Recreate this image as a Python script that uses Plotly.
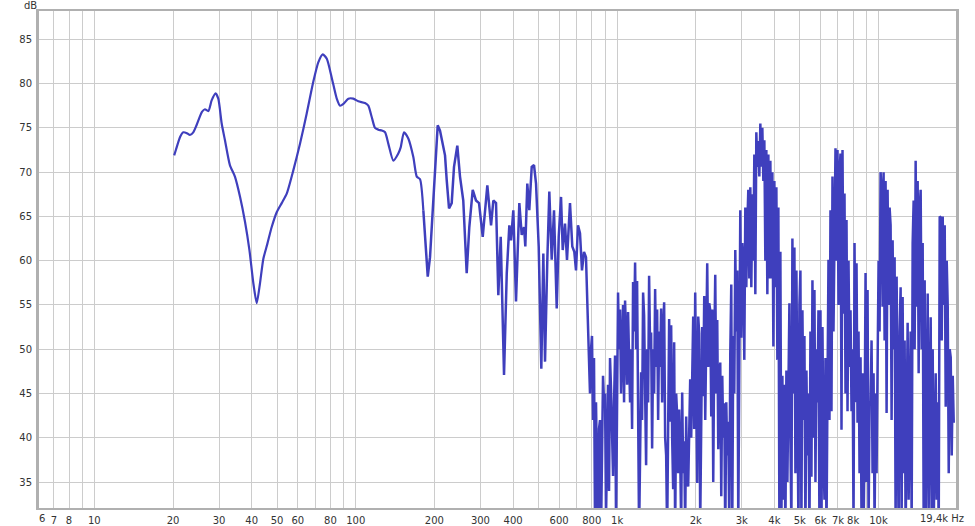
import numpy as np
import plotly.graph_objects as go

# ---------------- data ----------------
# smooth low-frequency part: frequency (Hz) and level (dB)
freq_low = [20.2, 20.5, 21.3, 21.9, 22.6, 23.2, 23.9, 24.6, 25.8, 26.5, 27.3, 28.1,
            29.1, 29.8, 30.7, 31.6, 33.0, 34.5, 36.1, 37.7, 39.2, 40.6, 41.8, 43.0,
            44.3, 45.9, 47.7, 49.9, 52.1, 54.5, 57.7, 61.2, 64.9, 68.8, 71.9, 74.8,
            77.5, 80.9, 84.6, 87.1, 89.7, 93.7, 97.9, 102.3, 108.5, 111.7, 115.2,
            118.5, 122.1, 125.8, 129.5, 133.3, 139.3, 145.5, 148.6, 153.0, 158.9,
            166.1, 171.2, 176.2, 181.4]
db_low = [71.9, 72.5, 74.0, 74.5, 74.4, 74.2, 74.5, 75.3, 76.8, 77.1, 76.9, 78.1,
          78.9, 78.3, 75.5, 73.6, 70.8, 69.5, 67.2, 64.4, 61.2, 57.4, 55.2, 57.4,
          60.2, 61.9, 63.8, 65.5, 66.5, 67.6, 70.2, 73.2, 76.6, 80.2, 82.4, 83.3,
          82.8, 80.7, 78.3, 77.5, 77.7, 78.3, 78.3, 78.0, 77.8, 77.5, 76.2,
          75.0, 74.8, 74.7, 74.5, 73.2, 71.3, 72.1, 72.8, 74.5, 73.8,
          71.7, 69.5, 69.2, 65.7]

# mid part (181 Hz - 780 Hz)
freq_mid = [181.4, 188.6, 192.4, 197.1, 201.1, 205.9, 210.1, 216.3, 219.6, 222.9,
            227.5, 232.9, 237.7, 244.7, 250.6, 257.9, 265.8, 272.0, 280.3, 288.5,
            296.3, 306.1, 318.8, 329.4, 336.1, 344.2, 351.2, 358.7, 369.3, 378.3,
            387.0, 392.8, 400.8, 410.4, 422.6, 431.6, 440.5, 445.5, 453.4, 461.4,
            471.3, 481.0, 489.6, 501.3, 512.9, 522.1, 530.0, 540.8, 550.4, 562.1,
            573.6, 587.5, 597.9, 610.2, 619.4, 632.0, 643.2, 660.4, 673.9, 685.9,
            696.3, 708.6, 721.2, 734.0, 747.1, 760.3, 775.9]
db_mid = [65.7, 58.2, 60.4, 65.7, 70.6, 75.3, 74.7, 72.7, 71.9, 69.1,
          65.9, 66.5, 70.6, 73.0, 69.5, 66.8, 58.6, 63.8, 68.0, 66.8,
          66.5, 62.7, 68.5, 64.0, 66.8, 66.5, 56.1, 62.7, 47.1, 58.6,
          64.0, 62.3, 65.7, 55.4, 66.5, 62.9, 63.8, 61.6, 68.7, 65.7,
          70.6, 70.8, 68.7, 61.6, 47.8, 60.8, 48.6, 60.1, 67.8, 60.1,
          65.7, 54.6, 62.7, 67.2, 61.2, 64.2, 60.1, 66.5, 61.6, 61.0,
          58.9, 64.0, 63.1, 58.9, 61.0, 60.4, 51.8]

# dense high-frequency part: levels on an evenly (log) spaced analyser grid
f_high_start = 787.6
f_high_end = 19408.0
db_high = [
    45, 50, 51.5, 42, 49, 30, 44, 36, 28, 41,
    42, 29, 40, 47, 44, 45, 31, 39, 46, 34,
    49, 45.5, 38, 35.7, 44, 49.3, 30, 40, 56.4, 50,
    54.5, 45, 50, 55, 44, 55.5, 51.5, 46, 54.2, 48,
    44, 50, 41, 57.6, 52, 59.8, 50, 57.7, 48, 29,
    38, 47.4, 42, 56.4, 53.8, 45, 36.9, 50, 44, 58.3,
    50, 51.9, 38.8, 50, 45, 56.8, 48, 54.5, 42, 52,
    48, 54.6, 44, 52, 55.3, 40, 38, 29, 47, 53.4,
    41.8, 52.7, 40, 34.2, 50.8, 29, 45, 42.5, 36, 43.2,
    38, 30, 45.1, 36, 39.6, 30, 42.4, 35, 34.5, 44,
    46.6, 40, 49.6, 53.7, 41, 56.4, 45.4, 34.9, 53.7, 51.8,
    30, 44, 52.5, 44.7, 56, 42, 51.8, 59.7, 48, 55.2,
    54.4, 42.4, 54.5, 35, 50, 58.4, 45, 53.3, 38.7, 47,
    48.5, 33.4, 47, 40, 43.9, 29, 44, 38, 41.8, 30,
    49.6, 57.3, 30, 51.5, 45, 61.2, 52, 58.9, 30, 55,
    65.7, 51.3, 62, 60, 48.8, 66, 57, 64, 68, 58,
    68.3, 57, 67.5, 60, 72, 56.2, 74.5, 70.6, 73.5, 69.5,
    75.5, 70.6, 75, 69, 73.6, 60, 72.5, 56.2, 72, 58,
    71.3, 58, 70, 50.3, 69, 57, 68.3, 48.8, 66, 30,
    61, 30, 47, 33, 46, 29, 47.6, 35, 46.9, 55.2,
    40, 30, 62.5, 45, 61.5, 36, 58.9, 42, 30, 55,
    58.9, 30, 54.4, 42, 51.5, 29, 47.6, 38, 45, 29,
    52, 35.6, 57.8, 40, 56.7, 35, 50, 44, 54.4, 29,
    54.4, 29, 52.5, 38, 33, 49, 29, 45, 60.1, 42,
    65.7, 43, 69.5, 52, 66, 72.7, 60, 72.5, 55, 70,
    72.1, 40.9, 72.5, 54, 67.6, 45, 64.6, 43, 60, 48,
    54.4, 43, 50, 30, 62, 44, 59.7, 41.7, 52, 36,
    49.1, 30, 47.3, 29, 40, 58.6, 35, 56.7, 30, 44,
    44, 51, 36, 47.3, 30, 45, 36, 50, 60, 52,
    70, 68, 54.8, 70, 51, 69, 42.8, 68, 55, 66,
    64, 42, 62.3, 50, 60.4, 30, 58.2, 44, 29, 52,
    57, 30, 55.9, 36, 51, 29, 48, 53, 33, 44,
    52, 30, 62, 66.8, 50, 71.3, 54.8, 69, 47.3, 66,
    68, 50, 62, 30, 57.8, 29, 45, 56.3, 32, 48,
    53.6, 29, 50, 30, 42, 47.3, 33, 44, 29, 65,
    64.9, 51, 65, 55, 64, 43.5, 60, 54.8, 36, 50,
    49.1, 38, 47, 41.7,
]

# axis ticks
grid_freqs = [7, 8, 9, 10, 20, 30, 40, 50, 60, 70, 80, 90,
              100, 200, 300, 400, 500, 600, 700, 800, 900,
              1000, 2000, 3000, 4000, 5000, 6000, 7000, 8000, 9000, 10000]
grid_labels = ["7", "8", "", "10", "20", "30", "40", "50", "60", "", "80", "",
               "100", "200", "300", "400", "", "600", "", "800", "",
               "1k", "2k", "3k", "4k", "5k", "6k", "7k", "8k", "", "10k"]
db_ticks = [35, 40, 45, 50, 55, 60, 65, 70, 75, 80, 85]

x_min_hz = 6.14
x_max_hz = 19800
y_min, y_max = 32.07, 88.2

# ---------------- figure ----------------
freq_high = np.geomspace(f_high_start, f_high_end, len(db_high))
line_color = "#3f3fbd"

fig = go.Figure()
fig.add_trace(go.Scatter(x=freq_low, y=db_low, mode="lines",
                         line=dict(color=line_color, width=2.2, shape="spline", smoothing=0.6),
                         hoverinfo="skip", showlegend=False))
fig.add_trace(go.Scatter(x=freq_mid + [float(f) for f in freq_high],
                         y=db_mid + db_high, mode="lines",
                         line=dict(color=line_color, width=2.5),
                         hoverinfo="skip", showlegend=False))

font = dict(family="DejaVu Sans, Verdana, sans-serif", size=10, color="#333333")

fig.update_layout(
    width=975, height=526,
    margin=dict(l=39, r=19, t=11, b=18),
    paper_bgcolor="white", plot_bgcolor="white",
    font=font,
    xaxis=dict(type="log", range=[np.log10(x_min_hz), np.log10(x_max_hz)],
               tickvals=grid_freqs, ticktext=grid_labels, automargin=False,
               showgrid=True, gridcolor="#cccccc", gridwidth=1,
               showline=True, linecolor="#b0b0b0", linewidth=2, mirror=True,
               ticks="outside", ticklen=2, tickcolor="rgba(0,0,0,0)",
               zeroline=False, tickfont=font),
    yaxis=dict(range=[y_min, y_max], tickvals=db_ticks, automargin=False,
               showgrid=True, gridcolor="#cccccc", gridwidth=1,
               showline=True, linecolor="#b0b0b0", linewidth=3, mirror=True,
               ticks="outside", ticklen=2, tickcolor="rgba(0,0,0,0)",
               zeroline=False, tickfont=font),
    annotations=[
        dict(text="dB", xref="paper", yref="paper", x=-0.0098, y=1.012,
             xanchor="center", yanchor="middle", showarrow=False, font=font),
        dict(text="6", xref="paper", yref="paper", x=0.003, y=0,
             xanchor="center", yanchor="top", yshift=-3, showarrow=False, font=font),
        dict(text="19,4k Hz", xref="paper", yref="paper", x=1.011, y=0,
             xanchor="right", yanchor="top", yshift=-3, showarrow=False, font=font),
    ],
)

fig.write_html("out.html", config={"displayModeBar": False},
               post_script="document.body.style.margin='0';document.body.style.overflow='hidden';")
